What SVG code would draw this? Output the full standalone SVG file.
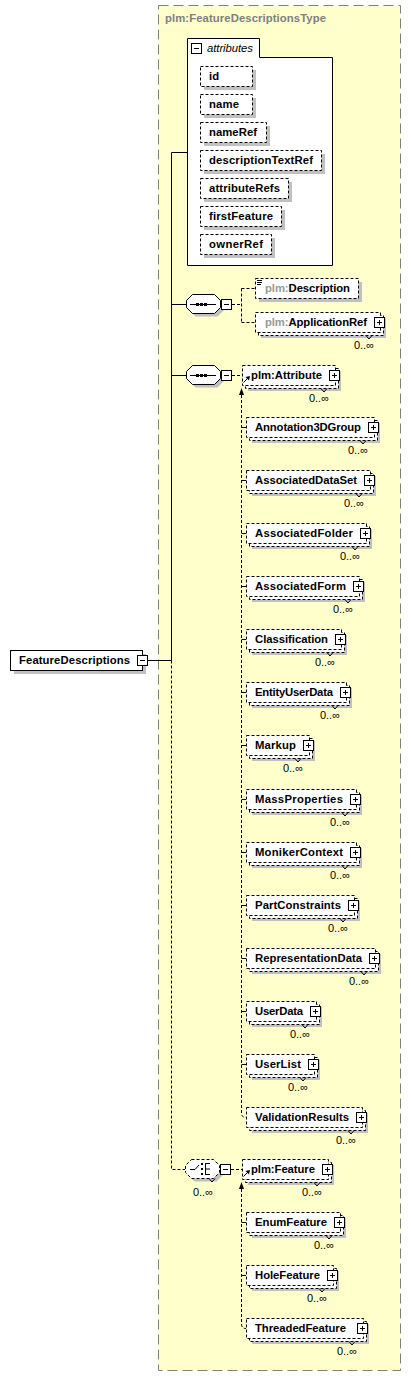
<svg xmlns="http://www.w3.org/2000/svg" width="411" height="1376" viewBox="0 0 411 1376">
<style>
.bg{fill:#ffffcc;stroke:#808080;stroke-dasharray:10,5}
.sh{fill:#c0c0c0}
.db{fill:#fff;stroke:#000;stroke-dasharray:3,2}
.sb{fill:#fff;stroke:#000}
.t{font-family:"Liberation Sans",Arial,sans-serif;font-size:11.3px;font-weight:bold;fill:#000}
.gr{fill:#999}
.tt{font-family:"Liberation Sans",Arial,sans-serif;font-size:11.3px;font-weight:bold;fill:#808080}
.it{font-family:"Liberation Sans",Arial,sans-serif;font-size:11.3px;font-style:italic;fill:#000}
.oc{font-family:"Liberation Sans",Arial,sans-serif;font-size:11px;fill:#000;text-anchor:end}
.ln{fill:none;stroke:#000}
.dl{fill:none;stroke:#000;stroke-dasharray:3,2}
</style>
<defs>
<g id="plus"><rect x="0.5" y="0.5" width="10" height="10" fill="#fff" stroke="#000"/><path d="M3,5.5H8M5.5,3V8" stroke="#000"/></g>
<g id="minus"><rect x="0.5" y="0.5" width="10" height="10" fill="#fff" stroke="#000"/><path d="M3,5.5H8" stroke="#000"/></g>
<path id="oct" d="M6,0H28L34,6V13L28,19H6L0,13V6Z"/>
</defs>

<rect class="bg" x="158.5" y="5.5" width="242" height="1365"/>
<text class="tt" x="165" y="22" textLength="161">plm:FeatureDescriptionsType</text>

<g id="connectors">
<path class="ln" d="M171.5,152.5V660.5M171.5,152.5H187M171.5,304.5H186M171.5,375.5H186M148,660.5H171.5"/>
<path class="dl" d="M171.5,660.5V1169.5H185"/>
<path class="dl" d="M232,304.5H241.5M241.5,288.5V322.5M241.5,288.5H255M241.5,322.5H255"/>
<path class="dl" d="M232,375.5H242"/>
<path class="dl" d="M241.5,395V1113Q241.5,1117.5 246,1117.5"/>
<path class="ln" d="M241.5,427.5H246M241.5,480.5H246M241.5,533.5H246M241.5,586.5H246M241.5,639.5H246M241.5,692.5H246M241.5,745.5H246M241.5,799.5H246M241.5,852.5H246M241.5,905.5H246M241.5,958.5H246M241.5,1011.5H246M241.5,1064.5H246"/>
<polygon points="241.5,388 239,395 244,395" fill="#000"/>
<path class="dl" d="M231,1169.5H242"/>
<path class="dl" d="M241.5,1189V1324Q241.5,1328.5 246,1328.5"/>
<path class="ln" d="M241.5,1222.5H246M241.5,1275.5H246"/>
<polygon points="241.5,1182 239,1189 244,1189" fill="#000"/>
</g>

<g id="FeatureDescriptions">
<rect class="sh" x="14" y="654" width="132" height="20"/>
<rect class="sb" x="10.5" y="650.5" width="132" height="20"/>
<text class="t" x="19" y="664" textLength="111">FeatureDescriptions</text>
<use href="#minus" x="137" y="655"/>
</g>

<g id="attributes">
<path class="sb" d="M187.5,38.5H259.5V57.5H332.5V265.5H187.5Z"/>
<use href="#minus" x="191" y="43"/>
<text class="it" x="207" y="52" textLength="46">attributes</text>
</g>
<g id="attr-id"><rect class="sh" x="204" y="70" width="52" height="20"/><rect class="db" x="200.5" y="66.5" width="52" height="20"/><text class="t" x="209" y="80">id</text></g>
<g id="attr-name"><rect class="sh" x="204" y="98" width="52" height="20"/><rect class="db" x="200.5" y="94.5" width="52" height="20"/><text class="t" x="209" y="108" textLength="30">name</text></g>
<g id="attr-nameRef"><rect class="sh" x="204" y="126" width="66" height="20"/><rect class="db" x="200.5" y="122.5" width="66" height="20"/><text class="t" x="209" y="136" textLength="48">nameRef</text></g>
<g id="attr-descriptionTextRef"><rect class="sh" x="204" y="154" width="121" height="20"/><rect class="db" x="200.5" y="150.5" width="121" height="20"/><text class="t" x="209" y="164" textLength="104">descriptionTextRef</text></g>
<g id="attr-attributeRefs"><rect class="sh" x="204" y="182" width="88" height="20"/><rect class="db" x="200.5" y="178.5" width="88" height="20"/><text class="t" x="209" y="192" textLength="71">attributeRefs</text></g>
<g id="attr-firstFeature"><rect class="sh" x="204" y="210" width="81" height="20"/><rect class="db" x="200.5" y="206.5" width="81" height="20"/><text class="t" x="209" y="220" textLength="64">firstFeature</text></g>
<g id="attr-ownerRef"><rect class="sh" x="204" y="238" width="71" height="20"/><rect class="db" x="200.5" y="234.5" width="71" height="20"/><text class="t" x="209" y="248" textLength="54">ownerRef</text></g>

<g id="sequence1">
<use href="#oct" x="189.5" y="297.5" class="sh"/>
<use href="#oct" x="186.5" y="294.5" fill="#fff" stroke="#000"/>
<path class="ln" d="M190,304.5H216"/>
<rect x="196" y="303" width="3" height="3"/><rect x="200" y="303" width="3" height="3"/><rect x="204" y="303" width="3" height="3"/>
<use href="#minus" x="221" y="299"/>
</g>

<g id="Description">
<rect class="sh" x="259" y="282" width="103" height="20"/>
<rect class="db" x="255.5" y="278.5" width="103" height="20"/>
<path class="ln" d="M257,280.5H262M257,282.5H262M257,284.5H261"/>
<text class="t" x="265" y="292" textLength="85"><tspan class="gr">plm:</tspan>Description</text>
</g>

<g id="ApplicationRef">
<rect class="sh" x="261" y="318" width="125" height="20"/>
<rect class="db" x="258.5" y="315.5" width="125" height="20"/>
<rect class="db" x="255.5" y="312.5" width="125" height="20"/>
<text class="t" x="265" y="326" textLength="102"><tspan class="gr">plm:</tspan>ApplicationRef</text>
<use href="#plus" x="374" y="317"/>
<path class="ln" d="M366,335.5L369,339L372,335.5"/>
<text class="oc" x="374" y="349">0..∞</text>
</g>

<g id="sequence2">
<use href="#oct" x="189.5" y="368.5" class="sh"/>
<use href="#oct" x="186.5" y="365.5" fill="#fff" stroke="#000"/>
<path class="ln" d="M190,375.5H216"/>
<rect x="196" y="374" width="3" height="3"/><rect x="200" y="374" width="3" height="3"/><rect x="204" y="374" width="3" height="3"/>
<use href="#minus" x="221" y="370"/>
</g>

<g id="Attribute">
<rect class="sh" x="248" y="371" width="93" height="20"/>
<rect class="db" x="245.5" y="368.5" width="93" height="20"/>
<rect class="db" x="242.5" y="365.5" width="93" height="20"/>
<path class="ln" d="M243.5,382.5L247.5,378.5"/><polygon points="245.5,377 250,376 249,380.5" fill="#000"/>
<text class="t" x="251" y="379" textLength="71">plm:Attribute</text>
<use href="#plus" x="329" y="370"/>
<path class="ln" d="M321,388.5L324,392L327,388.5"/>
<text class="oc" x="329" y="402">0..∞</text>
</g>

<g id="Annotation3DGroup"><rect class="sh" x="252" y="423" width="128" height="20"/><rect class="db" x="249.5" y="420.5" width="128" height="20"/><rect class="db" x="246.5" y="417.5" width="128" height="20"/><text class="t" x="255" y="431" textLength="106">Annotation3DGroup</text><use href="#plus" x="368" y="422"/><path class="ln" d="M360,440.5L363,444L366,440.5"/><text class="oc" x="368" y="454">0..∞</text></g>
<g id="AssociatedDataSet"><rect class="sh" x="252" y="476" width="124" height="20"/><rect class="db" x="249.5" y="473.5" width="124" height="20"/><rect class="db" x="246.5" y="470.5" width="124" height="20"/><text class="t" x="255" y="484" textLength="102">AssociatedDataSet</text><use href="#plus" x="364" y="475"/><path class="ln" d="M356,493.5L359,497L362,493.5"/><text class="oc" x="364" y="507">0..∞</text></g>
<g id="AssociatedFolder"><rect class="sh" x="252" y="529" width="120" height="20"/><rect class="db" x="249.5" y="526.5" width="120" height="20"/><rect class="db" x="246.5" y="523.5" width="120" height="20"/><text class="t" x="255" y="537" textLength="98">AssociatedFolder</text><use href="#plus" x="360" y="528"/><path class="ln" d="M352,546.5L355,550L358,546.5"/><text class="oc" x="360" y="560">0..∞</text></g>
<g id="AssociatedForm"><rect class="sh" x="252" y="582" width="113" height="20"/><rect class="db" x="249.5" y="579.5" width="113" height="20"/><rect class="db" x="246.5" y="576.5" width="113" height="20"/><text class="t" x="255" y="590" textLength="91">AssociatedForm</text><use href="#plus" x="353" y="581"/><path class="ln" d="M345,599.5L348,603L351,599.5"/><text class="oc" x="353" y="613">0..∞</text></g>
<g id="Classification"><rect class="sh" x="252" y="635" width="95" height="20"/><rect class="db" x="249.5" y="632.5" width="95" height="20"/><rect class="db" x="246.5" y="629.5" width="95" height="20"/><text class="t" x="255" y="643" textLength="73">Classification</text><use href="#plus" x="335" y="634"/><path class="ln" d="M327,652.5L330,656L333,652.5"/><text class="oc" x="335" y="666">0..∞</text></g>
<g id="EntityUserData"><rect class="sh" x="252" y="688" width="100" height="20"/><rect class="db" x="249.5" y="685.5" width="100" height="20"/><rect class="db" x="246.5" y="682.5" width="100" height="20"/><text class="t" x="255" y="696" textLength="78">EntityUserData</text><use href="#plus" x="340" y="687"/><path class="ln" d="M332,705.5L335,709L338,705.5"/><text class="oc" x="340" y="719">0..∞</text></g>
<g id="Markup"><rect class="sh" x="252" y="741" width="63" height="20"/><rect class="db" x="249.5" y="738.5" width="63" height="20"/><rect class="db" x="246.5" y="735.5" width="63" height="20"/><text class="t" x="255" y="749" textLength="41">Markup</text><use href="#plus" x="303" y="740"/><path class="ln" d="M295,758.5L298,762L301,758.5"/><text class="oc" x="303" y="772">0..∞</text></g>
<g id="MassProperties"><rect class="sh" x="252" y="795" width="110" height="20"/><rect class="db" x="249.5" y="792.5" width="110" height="20"/><rect class="db" x="246.5" y="789.5" width="110" height="20"/><text class="t" x="255" y="803" textLength="88">MassProperties</text><use href="#plus" x="350" y="794"/><path class="ln" d="M342,812.5L345,816L348,812.5"/><text class="oc" x="350" y="826">0..∞</text></g>
<g id="MonikerContext"><rect class="sh" x="252" y="848" width="110" height="20"/><rect class="db" x="249.5" y="845.5" width="110" height="20"/><rect class="db" x="246.5" y="842.5" width="110" height="20"/><text class="t" x="255" y="856" textLength="88">MonikerContext</text><use href="#plus" x="350" y="847"/><path class="ln" d="M342,865.5L345,869L348,865.5"/><text class="oc" x="350" y="879">0..∞</text></g>
<g id="PartConstraints"><rect class="sh" x="252" y="901" width="108" height="20"/><rect class="db" x="249.5" y="898.5" width="108" height="20"/><rect class="db" x="246.5" y="895.5" width="108" height="20"/><text class="t" x="255" y="909" textLength="86">PartConstraints</text><use href="#plus" x="348" y="900"/><path class="ln" d="M340,918.5L343,922L346,918.5"/><text class="oc" x="348" y="932">0..∞</text></g>
<g id="RepresentationData"><rect class="sh" x="252" y="954" width="129" height="20"/><rect class="db" x="249.5" y="951.5" width="129" height="20"/><rect class="db" x="246.5" y="948.5" width="129" height="20"/><text class="t" x="255" y="962" textLength="107">RepresentationData</text><use href="#plus" x="369" y="953"/><path class="ln" d="M361,971.5L364,975L367,971.5"/><text class="oc" x="369" y="985">0..∞</text></g>
<g id="UserData"><rect class="sh" x="252" y="1007" width="70" height="20"/><rect class="db" x="249.5" y="1004.5" width="70" height="20"/><rect class="db" x="246.5" y="1001.5" width="70" height="20"/><text class="t" x="255" y="1015" textLength="48">UserData</text><use href="#plus" x="310" y="1006"/><path class="ln" d="M302,1024.5L305,1028L308,1024.5"/><text class="oc" x="310" y="1038">0..∞</text></g>
<g id="UserList"><rect class="sh" x="252" y="1060" width="68" height="20"/><rect class="db" x="249.5" y="1057.5" width="68" height="20"/><rect class="db" x="246.5" y="1054.5" width="68" height="20"/><text class="t" x="255" y="1068" textLength="46">UserList</text><use href="#plus" x="308" y="1059"/><path class="ln" d="M300,1077.5L303,1081L306,1077.5"/><text class="oc" x="308" y="1091">0..∞</text></g>
<g id="ValidationResults"><rect class="sh" x="252" y="1113" width="116" height="20"/><rect class="db" x="249.5" y="1110.5" width="116" height="20"/><rect class="db" x="246.5" y="1107.5" width="116" height="20"/><text class="t" x="255" y="1121" textLength="94">ValidationResults</text><use href="#plus" x="356" y="1112"/><path class="ln" d="M348,1130.5L351,1134L354,1130.5"/><text class="oc" x="356" y="1144">0..∞</text></g>

<g id="choice">
<use href="#oct" x="188.5" y="1162.5" class="sh"/>
<use href="#oct" x="185.5" y="1159.5" fill="#fff" stroke="#000" stroke-dasharray="3,2"/>
<path class="ln" d="M190,1169.5H195L199,1165"/>
<rect x="201" y="1163" width="2" height="2"/><rect x="201" y="1168" width="2" height="2"/><rect x="201" y="1173" width="2" height="2"/>
<path class="ln" d="M205.5,1163V1175M205.5,1163.5H210M205.5,1169H210M205.5,1174.5H210"/>
<use href="#minus" x="220" y="1164"/>
<path class="ln" d="M209,1178.5L212,1182L215,1178.5"/>
<text class="oc" x="213" y="1196">0..∞</text>
</g>

<g id="Feature"><rect class="sh" x="248" y="1165" width="86" height="20"/><rect class="db" x="245.5" y="1162.5" width="86" height="20"/><rect class="db" x="242.5" y="1159.5" width="86" height="20"/><path class="ln" d="M243.5,1176.5L247.5,1172.5"/><polygon points="245.5,1171 250,1170 249,1174.5" fill="#000"/><text class="t" x="251" y="1173" textLength="64">plm:Feature</text><use href="#plus" x="322" y="1164"/><path class="ln" d="M314,1182.5L317,1186L320,1182.5"/><text class="oc" x="322" y="1196">0..∞</text></g>
<g id="EnumFeature"><rect class="sh" x="252" y="1218" width="94" height="20"/><rect class="db" x="249.5" y="1215.5" width="94" height="20"/><rect class="db" x="246.5" y="1212.5" width="94" height="20"/><text class="t" x="255" y="1226" textLength="72">EnumFeature</text><use href="#plus" x="334" y="1217"/><path class="ln" d="M326,1235.5L329,1239L332,1235.5"/><text class="oc" x="334" y="1249">0..∞</text></g>
<g id="HoleFeature"><rect class="sh" x="252" y="1271" width="87" height="20"/><rect class="db" x="249.5" y="1268.5" width="87" height="20"/><rect class="db" x="246.5" y="1265.5" width="87" height="20"/><text class="t" x="255" y="1279" textLength="65">HoleFeature</text><use href="#plus" x="327" y="1270"/><path class="ln" d="M319,1288.5L322,1292L325,1288.5"/><text class="oc" x="327" y="1302">0..∞</text></g>
<g id="ThreadedFeature"><rect class="sh" x="252" y="1324" width="117" height="20"/><rect class="db" x="249.5" y="1321.5" width="117" height="20"/><rect class="db" x="246.5" y="1318.5" width="117" height="20"/><text class="t" x="255" y="1332" textLength="91">ThreadedFeature</text><use href="#plus" x="357" y="1323"/><path class="ln" d="M349,1341.5L352,1345L355,1341.5"/><text class="oc" x="357" y="1355">0..∞</text></g>
</svg>
